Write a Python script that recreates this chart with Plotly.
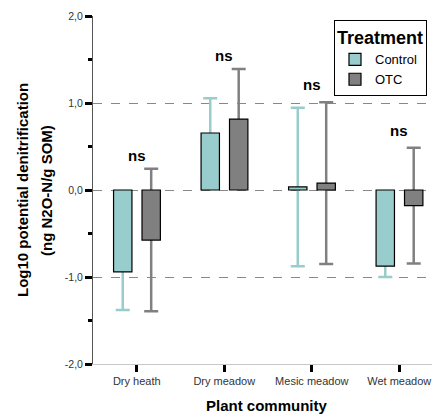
import plotly.graph_objects as go

categories = ["Dry heath", "Dry meadow", "Mesic meadow", "Wet meadow"]
control_mean = [-0.94, 0.655, 0.035, -0.875]
control_err = [0.44, 0.40, 0.91, 0.125]
otc_mean = [-0.575, 0.815, 0.08, -0.18]
otc_err = [0.82, 0.575, 0.93, 0.665]
sig_labels = ["ns", "ns", "ns", "ns"]
sig_y = [0.40, 1.55, 1.21, 0.68]
ytick_vals = [-2, -1, 0, 1, 2]
ytick_text = ["-2,0", "-1,0", "0,0", "1,0", "2,0"]
yminor_vals = [-1.5, -0.5, 0.5, 1.5]

TEAL = "#99CCCC"
GREY = "#808080"
FONT = "Liberation Sans"
BW = 0.21
OFF_C = -0.265
OFF_O = 0.06

fig = go.Figure()
# error-bar carriers first so the visible bars cover the inner half
fig.add_trace(go.Bar(x=categories, y=control_mean, width=BW, offset=OFF_C,
                     marker=dict(color="rgba(0,0,0,0)", line=dict(width=0)),
                     error_y=dict(type="data", array=control_err, color=TEAL, thickness=2.5, width=7),
                     showlegend=False, hoverinfo="skip"))
fig.add_trace(go.Bar(x=categories, y=otc_mean, width=BW, offset=OFF_O,
                     marker=dict(color="rgba(0,0,0,0)", line=dict(width=0)),
                     error_y=dict(type="data", array=otc_err, color=GREY, thickness=2.5, width=7),
                     showlegend=False, hoverinfo="skip"))
fig.add_trace(go.Bar(x=categories, y=control_mean, width=BW, offset=OFF_C, name="Control",
                     marker=dict(color=TEAL, line=dict(color="black", width=1.2))))
fig.add_trace(go.Bar(x=categories, y=otc_mean, width=BW, offset=OFF_O, name="OTC",
                     marker=dict(color=GREY, line=dict(color="black", width=1.2))))

for c, t, yv in zip(categories, sig_labels, sig_y):
    fig.add_annotation(x=c, y=yv, text=t, showarrow=False,
                       font=dict(family=FONT, size=15, color="black", weight="bold"))

fig.add_annotation(xref="paper", yref="paper", x=(22 - 93) / 339, y=0.5,
                   text="Log10 potential denitrification", textangle=-90, showarrow=False,
                   xanchor="center", yanchor="middle",
                   font=dict(family=FONT, size=15, color="black", weight="bold"))
fig.add_annotation(xref="paper", yref="paper", x=(46 - 93) / 339, y=0.5,
                   text="(ng N2O-N/g SOM)", textangle=-90, showarrow=False,
                   xanchor="center", yanchor="middle",
                   font=dict(family=FONT, size=15, color="black", weight="bold"))
fig.add_annotation(xref="paper", yref="paper", x=(267 - 93) / 339, y=-(406 - 364) / 348,
                   text="Plant community", showarrow=False,
                   xanchor="center", yanchor="middle",
                   font=dict(family=FONT, size=15, color="black", weight="bold"))

fig.update_layout(
    width=432, height=417,
    margin=dict(l=93, r=0, t=16, b=53, autoexpand=False),
    barmode="overlay",
    plot_bgcolor="white", paper_bgcolor="white",
    font=dict(family=FONT, color="#333"),
    legend=dict(x=(334 - 93) / 339, y=1 - (20 - 16) / 348, xanchor="left", yanchor="top",
                bordercolor="black", borderwidth=1, bgcolor="white",
                title=dict(text="Treatment", font=dict(family=FONT, size=18, color="black", weight="bold")),
                font=dict(family=FONT, size=13, color="black"),
                tracegroupgap=0, itemwidth=30),
    xaxis=dict(type="category", categoryorder="array", categoryarray=categories,
               range=[-0.5, 3.374], showgrid=False, zeroline=False,
               showline=True, linecolor="#c8c8c8", linewidth=1,
               ticks="outside", ticklen=7, tickwidth=3, tickcolor="black",
               tickfont=dict(family=FONT, size=11, color="#333")),
    yaxis=dict(range=[-2, 2], tickmode="array", tickvals=ytick_vals, ticktext=ytick_text,
               showgrid=True, gridcolor="#888", griddash="dash", gridwidth=1,
               zeroline=False, showline=True, linecolor="#555", linewidth=1,
               ticks="outside", ticklen=7, tickwidth=3, tickcolor="black",
               tickfont=dict(family=FONT, size=10.5, color="#333"),
               minor=dict(tickmode="array", tickvals=yminor_vals, ticks="outside",
                          ticklen=4, tickwidth=3, tickcolor="black", showgrid=False)),
)

fig.write_html("out.html", config={"displayModeBar": False},
               post_script="document.body.style.margin='0px';")
